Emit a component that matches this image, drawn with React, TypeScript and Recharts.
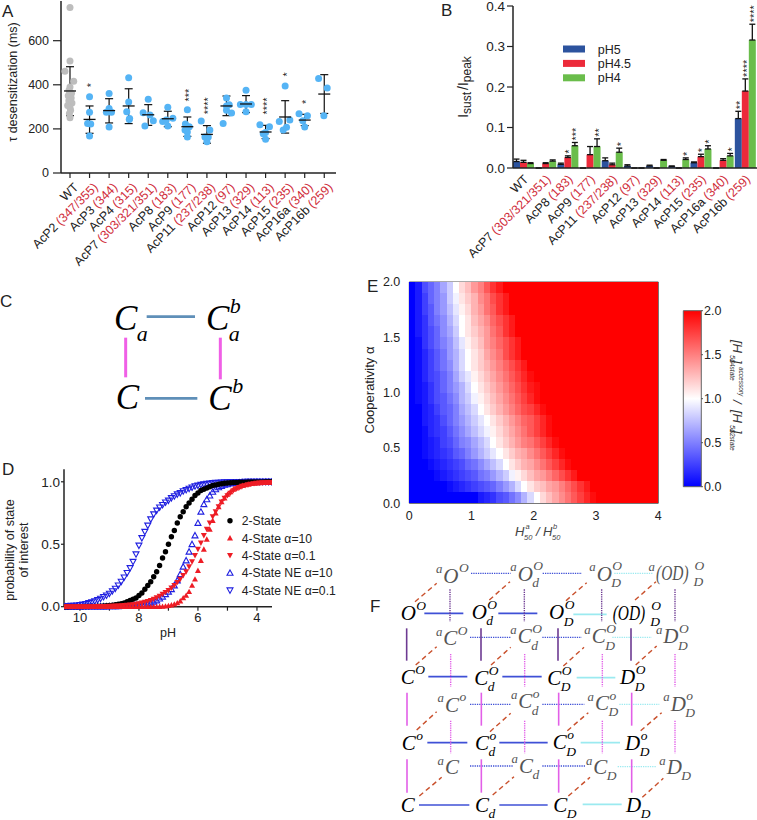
import {
  BarChart,
  Bar,
  ScatterChart,
  Scatter,
  XAxis,
  YAxis,
  ErrorBar,
  ReferenceLine,
} from 'recharts';

const SANS = '"Liberation Sans", Arial, sans-serif';
const SERIF = '"Liberation Serif", "Times New Roman", serif';
const INK = '#222';
const RESIDUE_RED = '#d02c3a';

// ---------- panel A ----------
const tauNames = ['WT', 'AcP2', 'AcP3', 'AcP4', 'AcP7', 'AcP8', 'AcP9', 'AcP11', 'AcP12', 'AcP13', 'AcP14', 'AcP15', 'AcP16a', 'AcP16b'];
const tauResidues = ['', '(347/355)', '(344)', '(315)', '(303/321/351)', '(183)', '(177)', '(237/238)', '(97)', '(329)', '(113)', '(235)', '(340)', '(259)'];
const tauMeans = [372, 243, 283, 304, 264, 246, 210, 175, 304, 313, 186, 254, 240, 358];
const tauLow = [260, 180, 227, 224, 216, 210, 166, 135, 260, 274, 156, 181, 215, 270];
const tauHigh = [482, 304, 337, 382, 310, 280, 254, 215, 349, 351, 216, 328, 266, 446];
// [swarm offset in category units, tau in ms]
const tauPoints = [
  [[0, 750], [0, 508], [-0.26, 461], [0.19, 416], [0, 390], [-0.05, 375], [0.08, 362], [-0.09, 350], [0.06, 340], [-0.06, 328], [0.1, 318], [-0.12, 306], [0, 296], [0.03, 285], [-0.03, 270], [0, 250]],
  [[0, 346], [0, 275], [-0.1, 225], [0.06, 222], [0, 168]],
  [[0, 360], [0, 293], [-0.14, 275], [0.12, 275], [0, 209]],
  [[0, 432], [0, 322], [-0.1, 278], [0.03, 243], [0.05, 247]],
  [[0, 335], [-0.26, 273], [0.09, 263], [0.26, 237], [-0.17, 213]],
  [[0, 298], [-0.26, 233], [0.26, 248], [0, 213], [-0.08, 240]],
  [[0, 287], [-0.1, 222], [0.1, 210], [0, 186], [0, 163], [-0.12, 195]],
  [[-0.29, 236], [0.15, 195], [-0.1, 163], [0, 142], [0.07, 163]],
  [[0, 304], [0, 285], [-0.17, 224], [0.26, 272], [0.14, 310], [0, 340]],
  [[0, 375], [-0.29, 311], [0.27, 311], [0, 311], [0, 278]],
  [[-0.29, 219], [0.2, 210], [0, 184], [0, 153], [-0.12, 178]],
  [[0, 394], [-0.3, 233], [0.24, 240], [0.07, 207], [-0.1, 195]],
  [[-0.29, 269], [0.14, 260], [-0.1, 237], [0, 209]],
  [[-0.29, 429], [0.15, 385], [-0.02, 260]],
];
const tauStars = [
  { x: 1, y: 399, text: '*' },
  { x: 6, y: 353, text: '***' },
  { x: 7, y: 305, text: '****' },
  { x: 10, y: 304, text: '****' },
  { x: 11, y: 447, text: '*' },
  { x: 12, y: 323, text: '*' },
];

// ---------- panel B ----------
const sustNames = ['WT', 'AcP7', 'AcP8', 'AcP9', 'AcP11', 'AcP12', 'AcP13', 'AcP14', 'AcP15', 'AcP16a', 'AcP16b'];
const sustResidues = ['', '(303/321/351)', '(183)', '(177)', '(237/238)', '(97)', '(329)', '(113)', '(235)', '(340)', '(259)'];
const pH5 = [0.016, 0, 0.009, 0, 0.018, 0.005, 0.005, 0.004, 0.013, 0, 0.122];
const pH45 = [0.014, 0.011, 0.026, 0.033, 0.008, 0, 0, 0, 0.028, 0.019, 0.19];
const pH4 = [0.011, 0.017, 0.055, 0.053, 0.039, 0, 0.019, 0.021, 0.047, 0.03, 0.316];
const pH5Err = [0.006, 0, 0.003, 0, 0.007, 0.003, 0.002, 0.001, 0.002, 0, 0.018];
const pH45Err = [0.005, 0.002, 0.004, 0.02, 0.004, 0, 0, 0, 0.006, 0.004, 0.03];
const pH4Err = [0.002, 0.003, 0.008, 0.019, 0.01, 0, 0.002, 0.004, 0.008, 0.006, 0.039];
const pH5Stars = ['', '', '', '', '', '', '', '', '', '', '**'];
const pH45Stars = ['', '', '*', '', '', '', '', '', '*', '', '****'];
const pH4Stars = ['', '', '***', '**', '*', '', '', '*', '*', '*', '****'];
const sustSeries = [
  { key: 'pH5', color: '#2c539e', errKey: 'pH5Err', errs: pH5Err, stars: pH5Stars, values: pH5 },
  { key: 'pH4.5', color: '#ec2a3a', errKey: 'pH45Err', errs: pH45Err, stars: pH45Stars, values: pH45 },
  { key: 'pH4', color: '#6abd4b', errKey: 'pH4Err', errs: pH4Err, stars: pH4Stars, values: pH4 },
];
const sustData = sustNames.map((name, i) => ({
  name,
  pH5: pH5[i],
  'pH4.5': pH45[i],
  pH4: pH4[i],
  pH5Err: [0, pH5Err[i]],
  pH45Err: [0, pH45Err[i]],
  pH4Err: [0, pH4Err[i]],
}));

// ---------- panel C ----------
const stateNodes = [
  { x: 342, y: 150, main: 'C', sub: 'a' },
  { x: 618, y: 150, main: 'C', sup: 'b', sub: 'a' },
  { x: 347, y: 388, main: 'C' },
  { x: 625, y: 390, main: 'C', sup: 'b' },
];
const stateBlue = [[440, 110, 585, 110], [435, 355, 592, 355]];
const statePink = [[377, 173, 377, 292], [661, 173, 661, 298]];

// ---------- panel D ----------
const pHValues = [
  10.5, 10.4, 10.3, 10.2, 10.1, 10, 9.9, 9.8, 9.7, 9.6,
  9.5, 9.4, 9.3, 9.2, 9.1, 9, 8.9, 8.8, 8.7, 8.6,
  8.5, 8.4, 8.3, 8.2, 8.1, 8, 7.9, 7.8, 7.7, 7.6,
  7.5, 7.4, 7.3, 7.2, 7.1, 7, 6.9, 6.8, 6.7, 6.6,
  6.5, 6.4, 6.3, 6.2, 6.1, 6, 5.9, 5.8, 5.7, 5.6,
  5.5, 5.4, 5.3, 5.2, 5.1, 5, 4.9, 4.8, 4.7, 4.6,
  4.5, 4.4, 4.3, 4.2, 4.1, 4, 3.9, 3.8, 3.7, 3.6,
  3.5,
];
const twoState = [
  0, 0, 0.001, 0.001, 0.001, 0.001, 0.001, 0.002, 0.002, 0.003,
  0.003, 0.004, 0.005, 0.006, 0.008, 0.01, 0.012, 0.016, 0.02, 0.025,
  0.03, 0.04, 0.05, 0.06, 0.07, 0.09, 0.11, 0.14, 0.17, 0.2,
  0.24, 0.28, 0.33, 0.39, 0.44, 0.5, 0.56, 0.61, 0.67, 0.72,
  0.76, 0.8, 0.83, 0.86, 0.89, 0.91, 0.93, 0.94, 0.95, 0.96,
  0.97, 0.975, 0.98, 0.984, 0.988, 0.99, 0.992, 0.994, 0.995, 0.996,
  0.997, 0.997, 0.998, 0.998, 0.999, 0.999, 0.999, 0.999, 1, 1,
  1,
];
const fourStateA10 = [
  0, 0, 0, 0, 0, 0, 0, 0, 0, 0,
  0, 0, 0, 0, 0, 0, 0, 0, 0, 0,
  0, 0, 0, 0, 0, 0, 0, 0, 0, 0,
  0, 0, 0.001, 0.002, 0.004, 0.008, 0.013, 0.02, 0.03, 0.045,
  0.07, 0.09, 0.12, 0.17, 0.22, 0.29, 0.37, 0.46, 0.54, 0.62,
  0.69, 0.75, 0.8, 0.84, 0.87, 0.9, 0.92, 0.94, 0.95, 0.96,
  0.97, 0.975, 0.98, 0.985, 0.988, 0.99, 0.992, 0.993, 0.994, 0.995,
  0.995,
];
const fourStateA01 = [
  0, 0, 0, 0, 0, 0, 0.001, 0.001, 0.001, 0.001,
  0.002, 0.002, 0.002, 0.003, 0.003, 0.004, 0.005, 0.006, 0.007, 0.008,
  0.01, 0.012, 0.014, 0.017, 0.02, 0.024, 0.03, 0.036, 0.043, 0.05,
  0.06, 0.072, 0.085, 0.1, 0.115, 0.13, 0.15, 0.17, 0.195, 0.22,
  0.25, 0.28, 0.32, 0.36, 0.41, 0.46, 0.51, 0.57, 0.62, 0.67,
  0.72, 0.76, 0.8, 0.84, 0.87, 0.89, 0.91, 0.93, 0.945, 0.955,
  0.965, 0.97, 0.977, 0.982, 0.986, 0.99, 0.992, 0.993, 0.994, 0.995,
  0.996,
];
const fourStateNeA10 = [
  0, 0, 0, 0, 0, 0, 0.001, 0.001, 0.001, 0.001,
  0.001, 0.001, 0.002, 0.002, 0.002, 0.003, 0.003, 0.004, 0.004, 0.005,
  0.006, 0.007, 0.008, 0.01, 0.012, 0.014, 0.017, 0.021, 0.026, 0.032,
  0.04, 0.05, 0.065, 0.08, 0.1, 0.12, 0.14, 0.17, 0.21, 0.26,
  0.32, 0.37, 0.44, 0.5, 0.57, 0.67, 0.76, 0.82, 0.86, 0.89,
  0.92, 0.94, 0.955, 0.965, 0.975, 0.98, 0.985, 0.99, 0.992, 0.994,
  0.995, 0.996, 0.997, 0.998, 0.998, 0.999, 0.999, 0.999, 1, 1,
  1,
];
const fourStateNeA01 = [
  0.005, 0.006, 0.008, 0.009, 0.011, 0.014, 0.018, 0.023, 0.03, 0.036,
  0.044, 0.054, 0.065, 0.078, 0.09, 0.105, 0.125, 0.145, 0.17, 0.2,
  0.235, 0.27, 0.31, 0.36, 0.42, 0.49, 0.55, 0.6, 0.65, 0.7,
  0.74, 0.77, 0.795, 0.815, 0.835, 0.85, 0.87, 0.885, 0.9, 0.91,
  0.925, 0.935, 0.945, 0.955, 0.965, 0.97, 0.976, 0.98, 0.984, 0.987,
  0.99, 0.992, 0.993, 0.995, 0.996, 0.997, 0.998, 0.998, 0.999, 0.999,
  0.999, 1, 1, 1, 1, 1, 1, 1, 1, 1,
  1,
];
const probSeries = [
  { name: '4-State NE α=0.1', values: fourStateNeA01, color: '#1f1fe0', kind: 'down-open' },
  { name: '4-State NE α=10', values: fourStateNeA10, color: '#1f1fe0', kind: 'up-open' },
  { name: '2-State', values: twoState, color: '#000', kind: 'dot' },
  { name: '4-State α=0.1', values: fourStateA01, color: '#ee1c25', kind: 'down' },
  { name: '4-State α=10', values: fourStateA10, color: '#ee1c25', kind: 'up' },
];
const probLegend = ['2-State', '4-State α=10', '4-State α=0.1', '4-State NE α=10', '4-State NE α=0.1'];

// ---------- panel E, rows run from alpha 0 upward, columns from ratio 0 to 4 ----------
const heatRows = [
  [0, 0, 0, 0, 0, 0, 0, 0, 0, 0, 0, .1, .15, .2, .3, .35, .45, .55, .7, .85, 1, 1.15, 1.25, 1.35, 1.45, 1.55, 1.65, 1.75, 1.85, 1.95, 2, 2, 2, 2, 2, 2, 2, 2, 2, 2],
  [0, 0, 0, 0, 0, 0, .05, .1, .15, .2, .25, .3, .35, .4, .5, .6, .7, .85, 1, 1.1, 1.2, 1.25, 1.35, 1.4, 1.5, 1.6, 1.7, 1.8, 1.9, 2, 2, 2, 2, 2, 2, 2, 2, 2, 2, 2],
  [0, 0, 0, 0, .05, .1, .15, .2, .25, .3, .35, .45, .5, .6, .7, .8, .95, 1.05, 1.15, 1.25, 1.35, 1.4, 1.5, 1.6, 1.7, 1.8, 1.9, 2, 2, 2, 2, 2, 2, 2, 2, 2, 2, 2, 2, 2],
  [0, 0, 0, .05, .1, .15, .2, .25, .3, .4, .45, .55, .65, .75, .85, 1, 1.1, 1.2, 1.3, 1.35, 1.45, 1.55, 1.65, 1.75, 1.85, 1.95, 2, 2, 2, 2, 2, 2, 2, 2, 2, 2, 2, 2, 2, 2],
  [0, 0, .05, .1, .15, .2, .25, .35, .4, .5, .6, .7, .8, .9, 1, 1.1, 1.2, 1.3, 1.35, 1.45, 1.55, 1.65, 1.75, 1.85, 1.95, 2, 2, 2, 2, 2, 2, 2, 2, 2, 2, 2, 2, 2, 2, 2],
  [0, 0, .05, .1, .15, .25, .3, .4, .5, .55, .65, .75, .85, 1, 1.1, 1.2, 1.3, 1.4, 1.5, 1.55, 1.65, 1.75, 1.85, 1.95, 2, 2, 2, 2, 2, 2, 2, 2, 2, 2, 2, 2, 2, 2, 2, 2],
  [0, 0, .05, .15, .2, .25, .35, .45, .55, .65, .75, .85, .95, 1.05, 1.15, 1.25, 1.35, 1.45, 1.55, 1.65, 1.75, 1.85, 1.95, 2, 2, 2, 2, 2, 2, 2, 2, 2, 2, 2, 2, 2, 2, 2, 2, 2],
  [0, 0, .1, .15, .2, .3, .4, .5, .6, .7, .8, .9, 1, 1.1, 1.2, 1.3, 1.4, 1.5, 1.6, 1.65, 1.75, 1.85, 1.95, 2, 2, 2, 2, 2, 2, 2, 2, 2, 2, 2, 2, 2, 2, 2, 2, 2],
  [0, 0, .1, .15, .25, .35, .4, .5, .65, .75, .85, 1, 1.1, 1.2, 1.3, 1.4, 1.5, 1.6, 1.7, 1.75, 1.85, 1.95, 2, 2, 2, 2, 2, 2, 2, 2, 2, 2, 2, 2, 2, 2, 2, 2, 2, 2],
  [0, .05, .1, .2, .3, .35, .45, .55, .7, .8, .95, 1.05, 1.15, 1.25, 1.35, 1.45, 1.55, 1.65, 1.75, 1.85, 1.95, 2, 2, 2, 2, 2, 2, 2, 2, 2, 2, 2, 2, 2, 2, 2, 2, 2, 2, 2],
  [0, .05, .1, .2, .3, .4, .5, .6, .7, .85, 1, 1.1, 1.2, 1.3, 1.4, 1.5, 1.6, 1.7, 1.8, 1.9, 1.95, 2, 2, 2, 2, 2, 2, 2, 2, 2, 2, 2, 2, 2, 2, 2, 2, 2, 2, 2],
  [0, .05, .15, .25, .3, .4, .5, .65, .8, .9, 1.05, 1.15, 1.25, 1.35, 1.45, 1.55, 1.65, 1.75, 1.85, 1.95, 2, 2, 2, 2, 2, 2, 2, 2, 2, 2, 2, 2, 2, 2, 2, 2, 2, 2, 2, 2],
  [0, .05, .15, .25, .35, .45, .55, .7, .85, 1, 1.1, 1.2, 1.3, 1.4, 1.5, 1.6, 1.7, 1.8, 1.9, 2, 2, 2, 2, 2, 2, 2, 2, 2, 2, 2, 2, 2, 2, 2, 2, 2, 2, 2, 2, 2],
  [0, .05, .15, .25, .35, .45, .6, .7, .85, 1, 1.1, 1.2, 1.35, 1.45, 1.55, 1.7, 1.8, 1.9, 2, 2, 2, 2, 2, 2, 2, 2, 2, 2, 2, 2, 2, 2, 2, 2, 2, 2, 2, 2, 2, 2],
  [0, .05, .2, .3, .4, .5, .6, .75, .9, 1.05, 1.15, 1.25, 1.4, 1.5, 1.6, 1.7, 1.8, 1.9, 2, 2, 2, 2, 2, 2, 2, 2, 2, 2, 2, 2, 2, 2, 2, 2, 2, 2, 2, 2, 2, 2],
  [0, .1, .2, .3, .4, .55, .65, .8, 1, 1.1, 1.2, 1.3, 1.4, 1.55, 1.65, 1.8, 1.9, 2, 2, 2, 2, 2, 2, 2, 2, 2, 2, 2, 2, 2, 2, 2, 2, 2, 2, 2, 2, 2, 2, 2],
  [0, .1, .2, .35, .45, .55, .7, .85, 1, 1.1, 1.25, 1.35, 1.45, 1.6, 1.7, 1.8, 1.9, 2, 2, 2, 2, 2, 2, 2, 2, 2, 2, 2, 2, 2, 2, 2, 2, 2, 2, 2, 2, 2, 2, 2],
  [0, .1, .25, .35, .5, .6, .75, .9, 1.05, 1.15, 1.3, 1.4, 1.55, 1.65, 1.8, 1.9, 2, 2, 2, 2, 2, 2, 2, 2, 2, 2, 2, 2, 2, 2, 2, 2, 2, 2, 2, 2, 2, 2, 2, 2],
  [0, .1, .25, .4, .5, .6, .8, .95, 1.1, 1.2, 1.3, 1.45, 1.55, 1.7, 1.8, 1.9, 2, 2, 2, 2, 2, 2, 2, 2, 2, 2, 2, 2, 2, 2, 2, 2, 2, 2, 2, 2, 2, 2, 2, 2],
  [0, .1, .3, .4, .5, .65, .8, 1, 1.15, 1.25, 1.4, 1.5, 1.65, 1.8, 1.9, 2, 2, 2, 2, 2, 2, 2, 2, 2, 2, 2, 2, 2, 2, 2, 2, 2, 2, 2, 2, 2, 2, 2, 2, 2],
];
const heatCells = heatRows.flatMap((row, r) =>
  row.map((v, c) => ({ ratio: (c + 0.5) / 10, alpha: (r + 0.5) / 10, v })),
);
const bwr = (v: number) => {
  if (v <= 1) {
    const t = Math.round(255 * v);
    return `rgb(${t},${t},255)`;
  }
  const t = Math.round(255 * (2 - v));
  return `rgb(255,${t},${t})`;
};
const colorbarData = [{ name: 'scale', top: 2 }];

// ---------- panel F ----------
const BLUE = '#3f50d6';
const CYAN = '#9beaf0';
const PINK = '#e25fe8';
const PURPLE = '#6d3a92';
const RUST = '#c9502c';
const schemeNodes = [
  { x: 190, y: 68, main: 'O', pre: 'a', sup: 'O', back: true },
  { x: 413, y: 62, main: 'O', pre: 'a', sup: 'O', sub: 'd', back: true },
  { x: 650, y: 62, main: 'O', pre: 'a', sup: 'O', sub: 'D', back: true },
  { x: 828, y: 60, main: '(OD)', pre: 'a', sup: 'O', sub: 'D', back: true },
  { x: 62, y: 180, main: 'O', sup: 'O' },
  { x: 275, y: 177, main: 'O', sup: 'O', sub: 'd' },
  { x: 507, y: 178, main: 'O', sup: 'O', sub: 'D' },
  { x: 698, y: 180, main: '(OD)', sup: 'O', sub: 'D' },
  { x: 190, y: 255, main: 'C', pre: 'a', sup: 'O', back: true },
  { x: 413, y: 250, main: 'C', pre: 'a', sup: 'O', sub: 'd', back: true },
  { x: 635, y: 250, main: 'C', pre: 'a', sup: 'O', sub: 'D', back: true },
  { x: 850, y: 250, main: 'D', pre: 'a', sup: 'O', sub: 'D', back: true },
  { x: 62, y: 373, main: 'C', sup: 'O' },
  { x: 283, y: 375, main: 'C', sup: 'O', sub: 'd' },
  { x: 502, y: 375, main: 'C', sup: 'O', sub: 'D' },
  { x: 720, y: 373, main: 'D', sup: 'O', sub: 'D' },
  { x: 195, y: 455, main: 'C', pre: 'a', sup: 'o', back: true },
  { x: 415, y: 445, main: 'C', pre: 'a', sup: 'o', sub: 'd', back: true },
  { x: 645, y: 450, main: 'C', pre: 'a', sup: 'o', sub: 'D', back: true },
  { x: 872, y: 452, main: 'D', pre: 'a', sup: 'o', sub: 'D', back: true },
  { x: 65, y: 570, main: 'C', sup: 'o' },
  { x: 285, y: 570, main: 'C', sup: 'o', sub: 'd' },
  { x: 518, y: 568, main: 'C', sup: 'o', sub: 'D' },
  { x: 735, y: 570, main: 'D', sup: 'o', sub: 'D' },
  { x: 195, y: 642, main: 'C', pre: 'a', back: true },
  { x: 417, y: 638, main: 'C', pre: 'a', sub: 'd', back: true },
  { x: 640, y: 642, main: 'C', pre: 'a', sub: 'D', back: true },
  { x: 860, y: 642, main: 'D', pre: 'a', sub: 'D', back: true },
  { x: 62, y: 755, main: 'C' },
  { x: 285, y: 755, main: 'C', sub: 'd' },
  { x: 520, y: 755, main: 'C', sub: 'D' },
  { x: 738, y: 755, main: 'D', sub: 'D' },
];
const schemeEdges = [
  { color: BLUE, width: 1.6, dash: undefined, lines: [[133, 160, 250, 160], [355, 160, 472, 160], [145, 350, 262, 350], [367, 350, 485, 350], [142, 548, 262, 548], [358, 548, 503, 548], [117, 735, 268, 735], [358, 735, 503, 735]] },
  { color: CYAN, width: 1.6, dash: undefined, lines: [[580, 163, 680, 163], [590, 353, 706, 353], [602, 548, 720, 548], [608, 733, 725, 733]] },
  { color: BLUE, width: 1.4, dash: '1.3 1', lines: [[273, 40, 392, 40], [488, 40, 606, 40], [270, 232, 392, 232], [487, 232, 605, 232], [270, 433, 392, 433], [487, 433, 613, 433], [270, 618, 398, 618], [487, 618, 618, 618]] },
  { color: CYAN, width: 1.4, dash: '1.3 1', lines: [[703, 40, 818, 40], [697, 232, 815, 232], [718, 433, 838, 433], [713, 620, 830, 620]] },
  { color: PURPLE, width: 1.4, dash: '1.3 1', lines: [[210, 88, 210, 185], [433, 88, 433, 185], [665, 88, 665, 185], [885, 88, 885, 185]] },
  { color: PINK, width: 1.4, dash: '1.3 1', lines: [[212, 282, 212, 380], [434, 282, 434, 380], [667, 282, 667, 380], [885, 282, 885, 380], [212, 482, 212, 580], [434, 482, 434, 580], [667, 482, 667, 580], [885, 482, 885, 580]] },
  { color: PURPLE, width: 1.6, dash: undefined, lines: [[80, 205, 80, 302], [303, 205, 303, 302], [534, 205, 534, 302], [753, 205, 753, 302]] },
  { color: PINK, width: 1.6, dash: undefined, lines: [[81, 398, 81, 497], [304, 398, 304, 497], [536, 398, 536, 497], [755, 398, 755, 497], [81, 598, 81, 698], [304, 598, 304, 698], [536, 598, 536, 698], [755, 598, 755, 698]] },
  { color: RUST, width: 1.4, dash: '5 3.5', lines: [[105, 125, 170, 70], [328, 120, 390, 65], [558, 122, 620, 68], [765, 120, 828, 65], [107, 315, 170, 260], [333, 315, 392, 262], [550, 318, 612, 262], [767, 315, 830, 258], [110, 510, 170, 455], [330, 515, 392, 460], [562, 512, 625, 458], [782, 512, 845, 458], [118, 708, 185, 652], [338, 705, 402, 650], [565, 708, 630, 652], [787, 712, 850, 655]] },
];

const glyphWidth: Record<string, number> = { C: 0.667, O: 0.722, D: 0.722, '(OD)': 1.81 };

const nodeShape = (font: number, small: number) => (props: any) => {
  const { cx, cy, payload: n } = props;
  const fill = n.back ? '#555' : '#000';
  const w = glyphWidth[n.main] * font;
  const common = { fontFamily: SERIF, fontStyle: 'italic', fill };
  return (
    <g>
      {n.pre && (
        <text x={cx - 1} y={cy - font * 0.45} textAnchor="end" fontSize={small * 0.95} {...common}>
          {n.pre}
        </text>
      )}
      <text x={cx} y={cy} fontSize={font} textLength={n.main === '(OD)' ? font * 1.55 : undefined} lengthAdjust="spacingAndGlyphs" {...common}>
        {n.main}
      </text>
      {n.sup && (
        <text x={cx + w + 0.5} y={cy - font * 0.5} fontSize={small} {...common}>
          {n.sup}
        </text>
      )}
      {n.sub && (
        <text x={cx + w - 0.5} y={cy + font * 0.3} fontSize={small} {...common}>
          {n.sub}
        </text>
      )}
    </g>
  );
};

const Marker = ({ cx, cy, kind, color }: any) => {
  if (kind === 'dot') return <circle cx={cx} cy={cy} r={2.7} fill={color} />;
  const s = 3;
  const up = kind.startsWith('up');
  const d = up
    ? `M${cx},${cy - s} L${cx + s},${cy + s * 0.8} L${cx - s},${cy + s * 0.8} Z`
    : `M${cx},${cy + s} L${cx + s},${cy - s * 0.8} L${cx - s},${cy - s * 0.8} Z`;
  return kind.endsWith('open') ? <path d={d} fill="none" stroke={color} strokeWidth={1.1} /> : <path d={d} fill={color} />;
};

const makeResidueTick = (names: string[], residues: string[], fontSize: number, shift: number, lift: number) => (props: any) => {
  const { x, y, payload } = props;
  const i = typeof payload.value === 'number' ? payload.value : names.indexOf(payload.value);
  return (
    <g transform={`translate(${x + shift},${y + lift}) rotate(-45)`}>
      <text textAnchor="end" fontFamily={SANS} fontSize={fontSize} fill={INK} dy="0.35em">
        {names[i]}
        {residues[i] && <tspan fill={RESIDUE_RED} dx={3}>{residues[i]}</tspan>}
      </text>
    </g>
  );
};

const axisLine = { stroke: INK, strokeWidth: 1.5 };
const tickLine = { stroke: INK, strokeWidth: 1.2 };

const StarText = ({ cx, cy, text, anchor = 'middle', size = 11 }: any) => (
  <text
    x={cx}
    y={cy}
    dy="0.5em"
    transform={`rotate(-90 ${cx} ${cy})`}
    textAnchor={anchor}
    fontFamily={SANS}
    fontSize={size}
    fill={INK}
  >
    {text}
  </text>
);

const PanelA = () => {
  const summary = tauNames.map((_, i) => ({
    x: i,
    y: tauMeans[i],
    err: [tauMeans[i] - tauLow[i], tauHigh[i] - tauMeans[i]],
  }));
  const gray = tauPoints[0].map(([dx, v]) => ({ x: dx, y: v }));
  const blue = tauPoints.slice(1).flatMap((pts, i) => pts.map(([dx, v]) => ({ x: i + 1 + dx, y: v })));
  return (
    <div style={{ position: 'absolute', left: 0, top: 0 }}>
      <ScatterChart width={345} height={272} margin={{ top: 1, right: 9, bottom: 0, left: 0 }}>
        <XAxis
          type="number"
          dataKey="x"
          domain={[-0.46, 13.6]}
          ticks={tauNames.map((_, i) => i)}
          interval={0}
          height={99}
          axisLine={axisLine}
          tickLine={tickLine}
          tickSize={5}
          tick={makeResidueTick(tauNames, tauResidues, 12.5, 6, 5)}
        />
        <YAxis
          type="number"
          dataKey="y"
          domain={[0, 780]}
          ticks={[0, 200, 400, 600]}
          interval={0}
          width={61}
          axisLine={axisLine}
          tickLine={tickLine}
          tickSize={8}
          tickMargin={4}
          tick={{ fontFamily: SANS, fontSize: 12.5, fill: INK }}
        />
        <Scatter data={gray} fill="#bdbdbd" isAnimationActive={false} shape={(p: any) => <circle cx={p.cx} cy={p.cy} r={3.5} fill="#bdbdbd" />} />
        <Scatter data={blue} fill="#55b4f5" isAnimationActive={false} shape={(p: any) => <circle cx={p.cx} cy={p.cy} r={3.5} fill="#55b4f5" />} />
        <Scatter
          data={summary}
          isAnimationActive={false}
          shape={(p: any) => <line x1={p.cx - 6} x2={p.cx + 6} y1={p.cy} y2={p.cy} stroke="#111" strokeWidth={1.3} />}
        >
          <ErrorBar dataKey="err" direction="y" width={4} stroke="#111" strokeWidth={1.2} isAnimationActive={false} />
        </Scatter>
        <Scatter
          data={tauStars}
          isAnimationActive={false}
          shape={(p: any) => <StarText cx={p.cx} cy={p.cy} text={p.payload.text} />}
        />
      </ScatterChart>
    </div>
  );
};

// bar plus its significance stars, which sit above the error cap
const starredBar = (s: (typeof sustSeries)[number]) => (props: any) => {
  const { x, y, width, height, index } = props;
  const val = s.values[index];
  const top = val > 0 ? y - (s.errs[index] / val) * height : y;
  return (
    <g>
      <rect x={x} y={y} width={width} height={height} fill={s.color} />
      {s.stars[index] && <StarText cx={x + width / 2} cy={top - 2} text={s.stars[index]} anchor="start" />}
    </g>
  );
};

const PanelB = () => (
  <div style={{ position: 'absolute', left: 440, top: 0 }}>
    <BarChart
      width={317}
      height={272}
      data={sustData}
      barCategoryGap={0}
      barGap={0}
      margin={{ top: 6, right: 0, bottom: 0, left: 0 }}
    >
      <XAxis
        dataKey="name"
        interval={0}
        height={104}
        axisLine={axisLine}
        tickLine={false}
        tick={makeResidueTick(sustNames, sustResidues, 12.5, 2, 1)}
      />
      <YAxis
        domain={[0, 0.4]}
        ticks={[0, 0.1, 0.2, 0.3, 0.4]}
        interval={0}
        width={73}
        axisLine={axisLine}
        tickLine={tickLine}
        tickSize={6}
        tickFormatter={(v: number) => v.toFixed(1)}
        tick={{ fontFamily: SANS, fontSize: 13.5, fill: INK }}
      />
      {sustSeries.map((s) => (
        <Bar key={s.key} dataKey={s.key} fill={s.color} isAnimationActive={false} shape={starredBar(s)}>
          <ErrorBar dataKey={s.errKey} direction="y" width={3} stroke="#111" strokeWidth={1.3} isAnimationActive={false} />
        </Bar>
      ))}
    </BarChart>
  </div>
);

const Diagram = ({ left, top, width, height, minY = 0, spanX, spanY, nodes, edges, font, small }: any) => (
  <div style={{ position: 'absolute', left, top }}>
    <ScatterChart width={width} height={height} margin={{ top: 0, right: 0, bottom: 0, left: 0 }}>
      <XAxis type="number" dataKey="x" domain={[0, spanX]} hide />
      <YAxis type="number" dataKey="y" domain={[minY, spanY]} reversed hide />
      {edges.flatMap((e: any, i: number) =>
        e.lines.map(([x1, y1, x2, y2]: number[], j: number) => (
          <ReferenceLine
            key={`${i}-${j}`}
            segment={[{ x: x1, y: y1 }, { x: x2, y: y2 }]}
            stroke={e.color}
            strokeWidth={e.width}
            strokeDasharray={e.dash}
          />
        )),
      )}
      <Scatter data={nodes} isAnimationActive={false} shape={nodeShape(font, small)} />
    </ScatterChart>
  </div>
);

const PanelD = () => (
  <div style={{ position: 'absolute', left: 0, top: 460 }}>
    <ScatterChart width={340} height={190} margin={{ top: 9.3, right: 68, bottom: 0, left: 0 }}>
      <XAxis
        type="number"
        dataKey="pH"
        reversed
        domain={[3.49, 10.54]}
        allowDataOverflow
        ticks={[10, 9, 8, 7, 6, 5, 4]}
        interval={0}
        height={43.3}
        axisLine={axisLine}
        tickLine={tickLine}
        tickSize={4}
        tickFormatter={(v: number) => (v % 2 === 0 ? String(v) : '')}
        tick={{ fontFamily: SANS, fontSize: 13, fill: INK }}
      />
      <YAxis
        type="number"
        dataKey="p"
        domain={[0, 1.1]}
        ticks={[0, 0.5, 1]}
        interval={0}
        width={64}
        axisLine={axisLine}
        tickLine={tickLine}
        tickSize={3}
        tickMargin={1}
        tickFormatter={(v: number) => v.toFixed(1)}
        tick={{ fontFamily: SANS, fontSize: 13.5, fill: INK }}
      />
      {probSeries.map((s) => (
        <Scatter
          key={s.name}
          name={s.name}
          data={pHValues.map((pH, i) => ({ pH, p: s.values[i] }))}
          isAnimationActive={false}
          shape={(p: any) => <Marker cx={p.cx} cy={p.cy} kind={s.kind} color={s.color} />}
        />
      ))}
    </ScatterChart>
  </div>
);

const PanelE = () => (
  <div style={{ position: 'absolute', left: 340, top: 270 }}>
    <ScatterChart width={330} height={280} margin={{ top: 12, right: 11.7, bottom: 0, left: 0 }}>
      <XAxis
        type="number"
        dataKey="ratio"
        domain={[0, 4]}
        ticks={[0, 1, 2, 3, 4]}
        interval={0}
        height={46.7}
        axisLine={{ stroke: '#555' }}
        tickLine={false}
        tick={{ fontFamily: SANS, fontSize: 12.5, fill: INK }}
      />
      <YAxis
        type="number"
        dataKey="alpha"
        domain={[0, 2]}
        ticks={[0, 0.5, 1, 1.5, 2]}
        interval={0}
        width={69.3}
        axisLine={{ stroke: '#555' }}
        tickLine={false}
        tickMargin={3}
        tickFormatter={(v: number) => v.toFixed(1)}
        tick={{ fontFamily: SANS, fontSize: 12.5, fill: INK }}
      />
      <Scatter
        data={heatCells}
        isAnimationActive={false}
        shape={(p: any) => (
          <rect
            x={p.cx - 3.2}
            y={p.cy - 5.7}
            width={6.4}
            height={11.4}
            fill={bwr(p.payload.v)}
            shapeRendering="crispEdges"
          />
        )}
      />
      <ReferenceLine x={4} stroke="#555" />
      <ReferenceLine y={2} stroke="#555" />
    </ScatterChart>
  </div>
);

const Colorbar = () => (
  <div style={{ position: 'absolute', left: 670, top: 300 }}>
    <BarChart
      width={87}
      height={200}
      data={colorbarData}
      barCategoryGap={0}
      margin={{ top: 10.7, right: 0, bottom: 13.3, left: 13.3 }}
    >
      <defs>
        <linearGradient id="bwr" x1="0" y1="1" x2="0" y2="0">
          <stop offset="0" stopColor="#0000ff" />
          <stop offset="0.5" stopColor="#ffffff" />
          <stop offset="1" stopColor="#ff0000" />
        </linearGradient>
      </defs>
      <XAxis dataKey="name" hide />
      <YAxis
        orientation="right"
        domain={[0, 2]}
        ticks={[0, 0.5, 1, 1.5, 2]}
        interval={0}
        width={56}
        axisLine={false}
        tickLine={{ stroke: '#555' }}
        tickSize={2}
        tickMargin={1}
        tickFormatter={(v: number) => v.toFixed(1)}
        tick={{ fontFamily: SANS, fontSize: 12.5, fill: INK }}
      />
      <Bar dataKey="top" fill="url(#bwr)" stroke="#666" isAnimationActive={false} />
    </BarChart>
  </div>
);

const letters = [
  { t: 'A', x: 2, y: 17 },
  { t: 'B', x: 441, y: 16 },
  { t: 'C', x: 0, y: 307 },
  { t: 'D', x: 2, y: 475 },
  { t: 'E', x: 367, y: 292 },
  { t: 'F', x: 370, y: 612 },
];
const sustLegend = sustSeries.map((s, i) => ({ name: s.key, color: s.color, y: 49 + i * 14.4 }));
// pieces of the colour bar's title: [text, distance along the title, offset below its baseline, size]
const barTitle: [string, number, number, number][] = [
  ['[H', 0, 0, 13],
  ['50', 15, 3, 7.5],
  [']', 20, 0, 13],
  ['4state', 23, 3.5, 6.5],
  ['accessory', 27, -6, 6.5],
  ['/', 60, 0, 13],
  ['[H', 70, 0, 13],
  ['50', 85, 3, 7.5],
  [']', 90, 0, 13],
  ['2state', 93, 3.5, 6.5],
];
// pieces of panel E's x title: [text, x, baseline, size]
const ratioTitle: [string, number, number, number][] = [
  ['H', 515, 536, 13],
  ['50', 524, 540, 7.5],
  ['a', 525.5, 529, 7.5],
  ['/', 536, 536, 13],
  ['H', 543, 536, 13],
  ['50', 552, 540, 7.5],
  ['b', 553, 529, 7.5],
];

const Overlay = () => (
  <svg width={757} height={820} style={{ position: 'absolute', left: 0, top: 0, pointerEvents: 'none' }} fontFamily={SANS} fill={INK}>
    {letters.map((l) => (
      <text key={l.t} x={l.x} y={l.y} fontSize={17}>
        {l.t}
      </text>
    ))}
    <text transform="translate(17,82) rotate(-90)" textAnchor="middle" fontSize={12.5}>
      τ desensitization (ms)
    </text>

    <text transform="translate(468,87) rotate(-90)" textAnchor="middle" fontSize={14}>
      I<tspan fontSize={12} dy={3}>sust</tspan>
      <tspan dy={-3} dx={2}>/I</tspan>
      <tspan fontSize={12} dy={3}>peak</tspan>
    </text>
    {sustLegend.map((s) => (
      <g key={s.name}>
        <rect x={563} y={s.y - 3.5} width={22} height={7} fill={s.color} />
        <text x={597.7} y={s.y + 4.5} fontSize={12.5}>
          {s.name}
        </text>
      </g>
    ))}

    <text transform="translate(14,550) rotate(-90)" textAnchor="middle" fontSize={12.5}>
      probability of state
    </text>
    <text transform="translate(28,550) rotate(-90)" textAnchor="middle" fontSize={12.5}>
      of interest
    </text>
    <text x={168} y={637} textAnchor="middle" fontSize={12.5}>
      pH
    </text>
    {probLegend.map((name, i) => {
      const s = probSeries.find((o) => o.name === name)!;
      const y = 520.7 + i * 17.4;
      return (
        <g key={name}>
          <Marker cx={230} cy={y} kind={s.kind} color={s.color} />
          <text x={241.7} y={y + 4.5} fontSize={12.2}>
            {name}
          </text>
        </g>
      );
    })}

    <text transform="translate(374,390) rotate(-90)" textAnchor="middle" fontSize={13}>
      Cooperativity α
    </text>
    {ratioTitle.map(([t, x, y, size], i) => (
      <text key={i} x={x} y={y} fontSize={size} fontStyle="italic" fill="#444">
        {t}
      </text>
    ))}
    <g transform="translate(733,340) rotate(90)" fontStyle="italic" fill="#333">
      {barTitle.map(([t, along, below, size], i) => (
        <text key={i} x={along} y={below} fontSize={size}>
          {t}
        </text>
      ))}
    </g>
  </svg>
);

export default function App() {
  return (
    <div style={{ position: 'absolute', left: 0, top: 0, width: 757, height: 820, overflow: 'hidden', background: '#fff', fontFamily: SANS }}>
      <PanelA />
      <PanelB />
      <Diagram
        left={0}
        top={280}
        width={330}
        height={190}
        spanX={990}
        spanY={570}
        nodes={stateNodes}
        edges={[
          { color: '#5f8fb8', width: 2.6, lines: stateBlue },
          { color: '#f05fe6', width: 3, lines: statePink },
        ]}
        font={35}
        small={22}
      />
      <PanelD />
      <PanelE />
      <Colorbar />
      <Diagram
        left={380}
        top={548}
        width={377}
        height={272}
        minY={-36}
        spanX={1131}
        spanY={780}
        nodes={schemeNodes}
        edges={schemeEdges}
        font={21}
        small={13.5}
      />
      <Overlay />
    </div>
  );
}
